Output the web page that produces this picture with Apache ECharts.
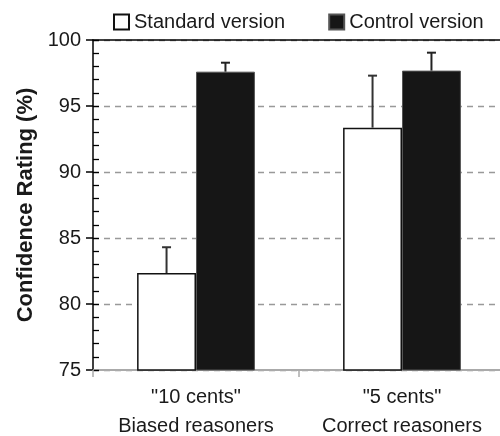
<!DOCTYPE html>
<html>
<head>
<meta charset="utf-8">
<script src="https://cdn.jsdelivr.net/npm/echarts@6/dist/echarts.min.js"></script>
<style>html,body{margin:0;padding:0;background:#fff;}#c{width:500px;height:436px;}</style>
</head>
<body>
<div id="c"></div>
<script>
const categories = ['"10 cents"\nBiased reasoners', '"5 cents"\nCorrect reasoners'];
const seriesNames = ['Standard version', 'Control version'];
const standardValues = [82.35, 93.36];
const standardErrors = [1.95, 3.94];
const controlValues = [97.6, 97.68];
const controlErrors = [0.68, 1.36];
const yTicks = [75, 80, 85, 90, 95, 100];

const FONT = '"Liberation Sans", Arial, sans-serif';
const chart = echarts.init(document.getElementById('c'));

function errSeries(name, values, errors, side, color) {
  return {
    type: 'custom',
    name: name + ' error',
    z: 5,
    silent: true,
    data: values.map((v, i) => [i, v, errors[i]]),
    renderItem: function (params, api) {
      const i = api.value(0), v = api.value(1), e = api.value(2);
      const band = api.size([1, 0])[0];
      const bw = band * 0.286;
      const base = api.coord([i, v]);
      const top = api.coord([i, v + e]);
      const x = base[0] + side * bw / 2;
      return {
        type: 'group',
        children: [
          { type: 'line', shape: { x1: x, y1: base[1], x2: x, y2: top[1] }, style: { stroke: color, lineWidth: 2 } },
          { type: 'line', shape: { x1: x - 4.5, y1: top[1], x2: x + 4.5, y2: top[1] }, style: { stroke: color, lineWidth: 2 } }
        ]
      };
    }
  };
}

chart.setOption({
  animation: false,
  textStyle: { fontFamily: FONT },
  legend: {
    left: 113, top: 12, padding: 0,
    icon: 'rect',
    itemWidth: 15, itemHeight: 15, itemGap: 43,
    textStyle: { fontSize: 20, color: '#1a1a1a', fontFamily: FONT },
    data: seriesNames
  },
  grid: { left: 93, top: 40, width: 412, height: 330, outerBoundsMode: 'none', containLabel: false },
  xAxis: [{
    type: 'category',
    data: categories,
    position: 'bottom',
    axisLine: { lineStyle: { color: '#aaa', width: 2 } },
    axisTick: { show: true, interval: 0, length: 7, lineStyle: { color: '#aaa', width: 1.5 } },
    axisLabel: { interval: 0, fontSize: 20, color: '#1a1a1a', lineHeight: 29, margin: 13, fontFamily: FONT }
  }, {
    type: 'category',
    data: categories,
    position: 'top',
    axisLine: { lineStyle: { color: '#000', width: 1.5 } },
    axisTick: { show: false },
    axisLabel: { show: false }
  }],
  yAxis: [{
    type: 'value',
    min: yTicks[0], max: yTicks[yTicks.length - 1], interval: 5,
    name: 'Confidence Rating (%)',
    nameLocation: 'middle',
    nameGap: 56,
    nameTextStyle: { fontSize: 22, fontWeight: 'bold', color: '#1a1a1a', fontFamily: FONT },
    axisLine: { show: true, lineStyle: { color: '#000', width: 1.5 } },
    axisTick: { show: true, length: 7, lineStyle: { color: '#000', width: 1.5 } },
    axisLabel: { fontSize: 20, color: '#1a1a1a', margin: 12, fontFamily: FONT },
    splitLine: { show: true, lineStyle: { color: '#999', type: [6, 5], width: 1.3 } }
  }, {
    type: 'value',
    min: yTicks[0], max: yTicks[yTicks.length - 1], interval: 1,
    position: 'left',
    axisLine: { show: false },
    axisTick: { show: true, inside: true, length: 6, lineStyle: { color: '#000', width: 1.3 } },
    axisLabel: { show: false },
    splitLine: { show: false }
  }],
  series: [{
    name: seriesNames[0],
    type: 'bar',
    data: standardValues,
    barWidth: '28.6%',
    barGap: '0%',
    itemStyle: { color: '#fff', borderColor: '#111', borderWidth: 1.5 }
  }, {
    name: seriesNames[1],
    type: 'bar',
    data: controlValues,
    barWidth: '28.6%',
    barGap: '0%',
    itemStyle: { color: '#161616', borderColor: '#555', borderWidth: 1 }
  },
  errSeries(seriesNames[0], standardValues, standardErrors, -1, '#333'),
  errSeries(seriesNames[1], controlValues, controlErrors, 1, '#222')
  ]
});
</script>
</body>
</html>
